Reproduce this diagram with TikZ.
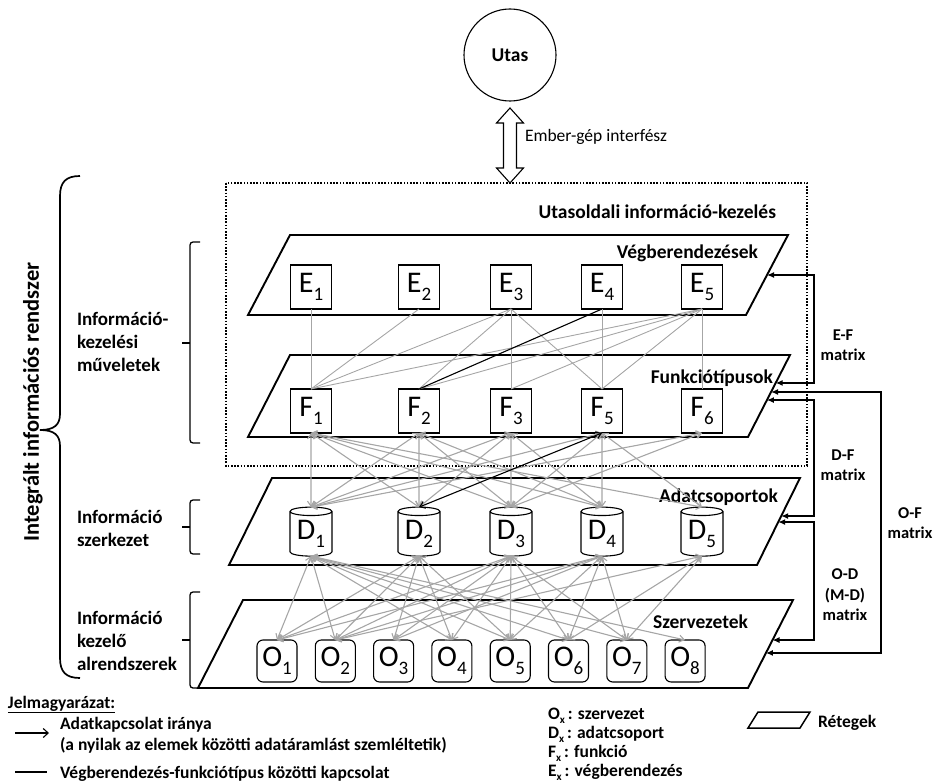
\documentclass[tikz,border=0pt]{standalone}
\usepackage{fontspec}
\setmainfont{Carlito}
\usetikzlibrary{shapes.geometric,arrows.meta,calc}

% element labels with a lowered index
\newcommand{\lsub}[1]{\raisebox{-0.28em}{\fontsize{19}{19}\selectfont #1}}
\newcommand{\xsub}{\raisebox{-0.25em}{\fontsize{11}{11}\selectfont x}}

\definecolor{linkgray}{RGB}{166,166,166}

\begin{document}
\begin{tikzpicture}[x=1pt,y=-1pt,
  every node/.style={inner sep=0pt,outer sep=0pt},
  layer/.style={line width=1.9pt,line join=miter},
  ttl/.style={font=\fontsize{19.5}{23}\selectfont\bfseries},
  lbl/.style={font=\fontsize{19}{23}\selectfont\bfseries,align=left},
  mlbl/.style={font=\fontsize{16.5}{20.5}\selectfont\bfseries,align=center},
  lgd/.style={font=\fontsize{17.5}{21}\selectfont\bfseries},
  elem/.style={draw,line width=1.1pt,fill=white,minimum width=41pt,minimum height=44pt,
    font=\fontsize{30}{30}\selectfont},
  ebox/.style={elem},
  obox/.style={elem,rounded corners=6pt,minimum width=40pt,minimum height=42pt},
  dcyl/.style={draw,line width=1.1pt,fill=white,cylinder,shape border rotate=90,aspect=0.3,
    minimum width=42pt,minimum height=49pt,font=\fontsize{30}{30}\selectfont},
  link/.style={draw=linkgray,line width=0.9pt},
  hotlink/.style={draw=black,line width=1.1pt},
  flow/.style={draw=linkgray,line width=1.1pt,>={Straight Barb[length=5pt,width=7pt]},<->},
  hotflow/.style={flow,draw=black},
  marr/.style={line width=1.2pt,>={Latex[length=7pt,width=6pt]},<->},
  bracket/.style={line width=1.3pt,rounded corners=3pt}]
\useasboundingbox (0,0) rectangle (935,784);

% ---------- user and interface ----------
\node[draw,circle,line width=1.1pt,minimum size=92pt,font=\fontsize{19.5}{23}\selectfont\bfseries] (utas) at (510,55) {Utas};
\coordinate (ifTop) at (510,108);
\coordinate (ifBot) at (510,183);
\draw[line width=1.1pt,fill=white] (ifTop) -- ++(13.5,15) -- ++(-7,0) -- ++(0,45) -- ++(7,0)
  -- (ifBot) -- ++(-13.5,-15) -- ++(7,0) -- ++(0,-45) -- ++(-7,0) -- cycle;
\node[anchor=base west,font=\fontsize{17.5}{21}\selectfont] (ifLbl) at (525,141) {Ember-gép interfész};

% ---------- passenger-side information handling ----------
\draw[line width=1.6pt,dash pattern=on 1.6pt off 1.6pt] (226,183) rectangle (807,466);
\node[ttl,anchor=base east] (uoTtl) at (776,218) {Utasoldali információ-kezelés};

% ---------- layers ----------
\coordinate (Etl) at (290,235); \coordinate (Etr) at (788,235);
\coordinate (Ebr) at (746,315); \coordinate (Ebl) at (248,315);
\coordinate (Ftl) at (290,355); \coordinate (Ftr) at (790,355);
\coordinate (Fbr) at (748,437); \coordinate (Fbl) at (248,437);
\coordinate (Dtl) at (272,478); \coordinate (Dtr) at (800,478);
\coordinate (Dbr) at (757,565); \coordinate (Dbl) at (229,565);
\coordinate (Otl) at (243,600); \coordinate (Otr) at (793,600);
\coordinate (Obr) at (748,688); \coordinate (Obl) at (198,688);
\draw[layer] (Etl) -- (Etr) -- (Ebr) -- (Ebl) -- cycle;
\draw[layer] (Ftl) -- (Ftr) -- (Fbr) -- (Fbl) -- cycle;
\draw[layer] (Dtl) -- (Dtr) -- (Dbr) -- (Dbl) -- cycle;
\draw[layer] (Otl) -- (Otr) -- (Obr) -- (Obl) -- cycle;
\node[ttl,anchor=base east] (tE) at (758,258) {Végberendezések};
\node[ttl,anchor=base east] (tF) at (773,383) {Funkciótípusok};
\node[ttl,anchor=base east] (tD) at (778,502) {Adatcsoportok};
\node[ttl,anchor=base east] (tO) at (748,628) {Szervezetek};

% ---------- elements ----------
\foreach \i/\x in {1/311,2/419,3/511,4/602,5/702}
  \node[ebox] (E\i) at (\x,287) {E\lsub{\i}};
\foreach \i/\x in {1/311,2/419,3/511,5/602,6/702}
  \node[ebox] (F\i) at (\x,411) {F\lsub{\i}};
\foreach \i/\x in {1/311,2/419,3/511,4/602,5/702}
  \node[dcyl] (D\i) at (\x,534) {D\lsub{\i}};
\foreach \i in {1,...,8}
  \node[obox] (O\i) at ({277+58.3*(\i-1)},661) {O\lsub{\i}};

% ---------- terminal - function type links ----------
\foreach \a/\b in {1/1,2/1,3/1,3/2,3/3,3/5,4/5,5/1,5/2,5/3,5/5,5/6}
  \draw[link] (E\a.south) -- (F\b.north);
\draw[hotlink] (E4.south) -- (F2.north);

% ---------- data group - function type flows ----------
\foreach \a/\b in {1/1,1/2,1/3,1/4,1/5,2/1,2/2,2/3,2/4,3/1,3/2,3/3,3/4,5/1,5/3,5/4,5/5,6/1,6/3}
  \draw[flow] (F\a.south) -- (D\b.north);
\draw[hotflow] (F5.south) -- (D2.north);

% ---------- organisation - data group flows ----------
\foreach \a/\b in {1/1,1/2,1/4,1/5,1/6,1/7,1/8,2/1,2/2,2/3,2/4,2/5,3/1,3/2,3/3,3/4,3/5,3/6,3/7,
                   4/1,4/2,4/3,4/5,4/6,4/7,5/2,5/6,5/7}
  \draw[flow] (D\a.south) -- (O\b.north);

% ---------- matrices on the right ----------
\coordinate (eA) at ($(Etr)!0.5!(Ebr)$);
\coordinate (fA) at ($(Ftr)!0.341!(Fbr)$);
\coordinate (fB) at ($(Ftr)!0.451!(Fbr)$);
\coordinate (fC) at ($(Ftr)!0.549!(Fbr)$);
\coordinate (dA) at ($(Dtr)!0.437!(Dbr)$);
\coordinate (dB) at ($(Dtr)!0.506!(Dbr)$);
\coordinate (oA) at ($(Otr)!0.455!(Obr)$);
\coordinate (oB) at ($(Otr)!0.602!(Obr)$);
\coordinate (xIn) at (814,0);
\coordinate (xOut) at (881,0);
\draw[marr] (eA) -- (eA -| xIn) -- (fA -| xIn) -- (fA);
\draw[marr] (fB) -- (fB -| xOut) -- (oB -| xOut) -- (oB);
\draw[marr] (fC) -- (fC -| xIn) -- (dA -| xIn) -- (dA);
\draw[marr] (dB) -- (dB -| xIn) -- (oA -| xIn) -- (oA);
\node[mlbl] (mEF) at (843,345) {E-F\\matrix};
\node[mlbl] (mDF) at (843,465) {D-F\\matrix};
\node[mlbl] (mOF) at (910,523) {O-F\\matrix};
\node[mlbl] (mOD) at (845,595) {O-D\\(M-D)\\matrix};

% ---------- left-hand grouping ----------
\draw[line width=1.7pt] (80,176) .. controls (66,176) and (60,182) .. (60,196) -- (60,414)
  .. controls (60,425) and (54,430) .. (40,430) .. controls (54,430) and (60,435) .. (60,446)
  -- (60,658) .. controls (60,672) and (66,678) .. (80,678);
\node[rotate=90,font=\fontsize{22.5}{27}\selectfont\bfseries] (sys) at (33,402) {Integrált információs rendszer};

\draw[bracket] (200,242) -- (190,242) -- (190,443) -- (200,443);
\draw[line width=1.3pt] (190,343) -- (182,343);
\draw[bracket] (200,500) -- (190,500) -- (190,554) -- (200,554);
\draw[line width=1.3pt] (190,527) -- (182,527);
\draw[bracket] (200,592) -- (190,592) -- (190,688) -- (200,688);
\draw[line width=1.3pt] (190,640) -- (182,640);
\node[lbl,anchor=west] (gOps) at (77,342) {Információ-\\kezelési\\műveletek};
\node[lbl,anchor=west] (gStr) at (77,528) {Információ\\szerkezet};
\node[lbl,anchor=west] (gSub) at (77,641) {Információ\\kezelő\\alrendszerek};

% ---------- legend ----------
\node[lgd,anchor=base west] (lgTitle) at (8,708) {\underline{Jelmagyarázat:}};
\coordinate (lgA1) at (15,733); \coordinate (lgA2) at (49,733);
\draw[line width=1.1pt,-{Straight Barb[length=5pt,width=9pt]}] (lgA1) -- (lgA2);
\node[lgd,anchor=base west] (lgFlow1) at (60,729) {Adatkapcsolat iránya};
\node[lgd,anchor=base west] (lgFlow2) at (60,750) {(a nyilak az elemek közötti adatáramlást szemléltetik)};
\coordinate (lgL1) at (15,772); \coordinate (lgL2) at (47,772);
\draw[line width=1.1pt] (lgL1) -- (lgL2);
\node[lgd,anchor=base west] (lgLink) at (60,778) {Végberendezés-funkciótípus közötti kapcsolat};

\node[lgd,anchor=base west] (lgO) at (548,719) {O\xsub\,: szervezet};
\node[lgd,anchor=base west] (lgD) at (548,738) {D\xsub\,: adatcsoport};
\node[lgd,anchor=base west] (lgF) at (548,757) {F\xsub\,: funkció};
\node[lgd,anchor=base west] (lgE) at (548,776) {E\xsub\,: végberendezés};

\draw[line width=1.5pt] (748,728) -- (758,712) -- (810,712) -- (800,728) -- cycle;
\node[lgd,anchor=base west] (lgLayer) at (818,727) {Rétegek};
\end{tikzpicture}
\end{document}
